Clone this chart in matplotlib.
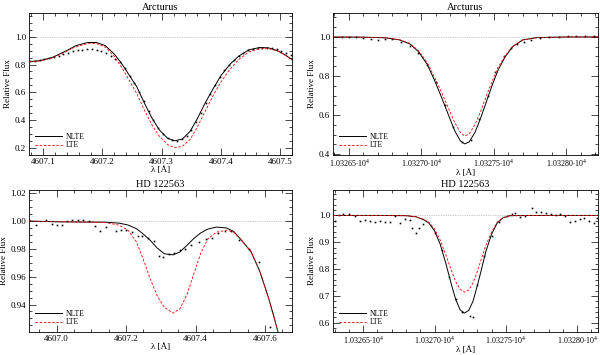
import numpy as np
import matplotlib.pyplot as plt
from matplotlib.ticker import MultipleLocator, AutoMinorLocator, FixedLocator, FixedFormatter

plt.rcParams['font.family'] = ['Liberation Serif', 'DejaVu Serif']
plt.rcParams['mathtext.fontset'] = 'custom'
plt.rcParams['mathtext.rm'] = 'Liberation Serif'

# --- Arcturus, 4607 A ---
arc_blue_wl = [4607.076, 4607.095, 4607.115, 4607.135, 4607.155, 4607.175, 4607.190,
               4607.205, 4607.220, 4607.232, 4607.245, 4607.258, 4607.270, 4607.283,
               4607.296, 4607.310, 4607.322, 4607.335, 4607.348, 4607.360, 4607.373,
               4607.386, 4607.400, 4607.415, 4607.430, 4607.447, 4607.465, 4607.480,
               4607.495, 4607.508, 4607.520]
arc_blue_nlte = [0.820, 0.828, 0.850, 0.890, 0.935, 0.958, 0.958, 0.935, 0.875, 0.810,
                 0.725, 0.640, 0.530, 0.420, 0.330, 0.270, 0.252, 0.265, 0.320, 0.410,
                 0.520, 0.620, 0.720, 0.800, 0.860, 0.905, 0.922, 0.920, 0.900, 0.870,
                 0.835]
arc_blue_lte = [0.820, 0.826, 0.846, 0.885, 0.928, 0.950, 0.950, 0.925, 0.858, 0.782,
                0.688, 0.590, 0.480, 0.370, 0.285, 0.225, 0.202, 0.212, 0.262, 0.350,
                0.460, 0.570, 0.675, 0.765, 0.835, 0.890, 0.912, 0.915, 0.898, 0.868,
                0.832]
arc_blue_obs_wl = [4607.078, 4607.086, 4607.094, 4607.102, 4607.110, 4607.118, 4607.126,
                   4607.134, 4607.142, 4607.150, 4607.158, 4607.166, 4607.174, 4607.182,
                   4607.190, 4607.198, 4607.206, 4607.214, 4607.222, 4607.230, 4607.238,
                   4607.246, 4607.254, 4607.262, 4607.270, 4607.278, 4607.286, 4607.294,
                   4607.302, 4607.310, 4607.318, 4607.326, 4607.334, 4607.342, 4607.350,
                   4607.358, 4607.366, 4607.374, 4607.382, 4607.390, 4607.398, 4607.406,
                   4607.414, 4607.422, 4607.430, 4607.438, 4607.446, 4607.454, 4607.462,
                   4607.470, 4607.478, 4607.486, 4607.494, 4607.502, 4607.510, 4607.518]
arc_blue_obs = [0.822, 0.824, 0.829, 0.836, 0.844, 0.853, 0.863, 0.873, 0.884, 0.894,
                0.902, 0.907, 0.909, 0.908, 0.903, 0.895, 0.882, 0.864, 0.842, 0.815,
                0.775, 0.720, 0.665, 0.605, 0.535, 0.468, 0.400, 0.345, 0.300, 0.270,
                0.255, 0.252, 0.262, 0.290, 0.330, 0.390, 0.455, 0.525, 0.590, 0.655,
                0.710, 0.760, 0.800, 0.835, 0.862, 0.885, 0.902, 0.913, 0.920, 0.922,
                0.922, 0.918, 0.910, 0.898, 0.885, 0.868]

# --- Arcturus, 10327 A ---
arc_ir_wl = [10326.39, 10326.60, 10326.75, 10326.85, 10326.92, 10326.98, 10327.04,
             10327.09, 10327.14, 10327.19, 10327.23, 10327.27, 10327.30, 10327.33,
             10327.37, 10327.41, 10327.45, 10327.49, 10327.53, 10327.58, 10327.63,
             10327.70, 10327.80, 10328.00, 10328.22]
arc_ir_nlte = [1.000, 0.999, 0.996, 0.985, 0.965, 0.925, 0.860, 0.780, 0.690, 0.595,
               0.520, 0.467, 0.452, 0.462, 0.510, 0.585, 0.670, 0.755, 0.830, 0.900,
               0.950, 0.985, 0.997, 1.000, 1.000]
arc_ir_lte = [1.000, 0.999, 0.996, 0.986, 0.967, 0.930, 0.870, 0.795, 0.715, 0.630,
              0.562, 0.510, 0.492, 0.503, 0.550, 0.620, 0.700, 0.775, 0.845, 0.905,
              0.952, 0.985, 0.997, 1.000, 1.000]
arc_ir_obs_wl = [10326.45, 10326.50, 10326.55, 10326.60, 10326.65, 10326.70, 10326.75,
                 10326.80, 10326.86, 10326.92, 10326.98, 10327.04, 10327.10, 10327.16,
                 10327.22, 10327.28, 10327.34, 10327.40, 10327.46, 10327.51, 10327.57,
                 10327.62, 10327.66, 10327.71, 10327.76, 10327.82, 10327.88, 10327.95,
                 10328.01, 10328.07, 10328.13, 10328.19]
arc_ir_obs = [1.000, 0.999, 0.998, 0.996, 0.988, 0.985, 0.990, 0.992, 0.975, 0.955,
              0.920, 0.855, 0.770, 0.650, 0.540, 0.462, 0.470, 0.580, 0.700, 0.820,
              0.905, 0.945, 0.962, 0.975, 0.985, 0.995, 1.000, 1.002, 1.003, 1.003,
              1.004, 1.003]

# --- HD 122563, 4607 A ---
hd_blue_wl = [4606.92, 4607.00, 4607.08, 4607.14, 4607.18, 4607.205, 4607.23, 4607.25,
              4607.27, 4607.29, 4607.31, 4607.335, 4607.355, 4607.375, 4607.395,
              4607.415, 4607.435, 4607.46, 4607.49, 4607.51, 4607.53, 4607.56,
              4607.585, 4607.61, 4607.625, 4607.64]
hd_blue_nlte = [1.0000, 0.9995, 0.9993, 0.9992, 0.9985, 0.9972, 0.9945, 0.9905,
                0.9860, 0.9805, 0.9765, 0.9757, 0.9778, 0.9825, 0.9875, 0.9915,
                0.9942, 0.9957, 0.9950, 0.9925, 0.9870, 0.9780, 0.9640, 0.9450,
                0.9320, 0.9180]
hd_blue_lte = [1.0000, 0.9995, 0.9993, 0.9990, 0.9970, 0.9935, 0.9850, 0.9720,
               0.9580, 0.9460, 0.9380, 0.9338, 0.9370, 0.9470, 0.9620, 0.9770,
               0.9870, 0.9920, 0.9935, 0.9920, 0.9868, 0.9778, 0.9638, 0.9448,
               0.9318, 0.9178]
hd_blue_obs_wl = [4606.920, 4606.939, 4606.968, 4606.985, 4607.002, 4607.014, 4607.031,
                  4607.045, 4607.062, 4607.077, 4607.093, 4607.111, 4607.125, 4607.141,
                  4607.170, 4607.186, 4607.201, 4607.216, 4607.233, 4607.247, 4607.263,
                  4607.279, 4607.296, 4607.306, 4607.323, 4607.338, 4607.356, 4607.371,
                  4607.387, 4607.410, 4607.431, 4607.448, 4607.464, 4607.485, 4607.503,
                  4607.524, 4607.553, 4607.584, 4607.615]
hd_blue_obs = [1.0011, 0.9975, 1.0011, 0.9980, 0.9971, 0.9975, 0.9999, 1.0011, 1.0006,
               1.0006, 0.9999, 0.9968, 0.9932, 0.9956, 0.9928, 0.9939, 0.9939, 0.9920,
               0.9892, 0.9892, 0.9880, 0.9860, 0.9746, 0.9742, 0.9760, 0.9767, 0.9789,
               0.9801, 0.9827, 0.9850, 0.9868, 0.9880, 0.9911, 0.9928, 0.9928, 0.9863,
               0.9801, 0.9706, 0.9235]

# --- HD 122563, 10327 A ---
hd_ir_wl = [10326.29, 10326.60, 10326.80, 10326.87, 10326.92, 10326.96, 10327.00,
            10327.04, 10327.08, 10327.12, 10327.15, 10327.18, 10327.21, 10327.24,
            10327.27, 10327.30, 10327.33, 10327.36, 10327.40, 10327.44, 10327.48,
            10327.53, 10327.70, 10328.15]
hd_ir_nlte = [1.000, 1.000, 0.999, 0.995, 0.985, 0.972, 0.943, 0.893, 0.820, 0.740,
              0.685, 0.648, 0.636, 0.646, 0.680, 0.738, 0.800, 0.865, 0.930, 0.972,
              0.991, 0.999, 1.000, 1.000]
hd_ir_lte = [1.000, 1.000, 0.999, 0.995, 0.986, 0.975, 0.950, 0.908, 0.852, 0.793,
             0.752, 0.725, 0.714, 0.722, 0.748, 0.790, 0.840, 0.888, 0.938, 0.975,
             0.992, 0.999, 1.000, 1.000]
hd_ir_obs_wl = [10326.30, 10326.33, 10326.36, 10326.40, 10326.44, 10326.48, 10326.51,
                10326.55, 10326.58, 10326.62, 10326.65, 10326.69, 10326.72, 10326.76,
                10326.79, 10326.83, 10326.84, 10326.87, 10326.89, 10326.92, 10327.00,
                10327.05, 10327.10, 10327.15, 10327.19, 10327.248, 10327.27, 10327.30,
                10327.35, 10327.40, 10327.45, 10327.509, 10327.544, 10327.568,
                10327.603, 10327.638, 10327.684, 10327.715, 10327.747, 10327.782,
                10327.817, 10327.852, 10327.883, 10327.913, 10327.948, 10327.983,
                10328.018, 10328.051, 10328.086, 10328.117, 10328.14]
hd_ir_obs = [0.980, 1.001, 1.005, 1.005, 0.999, 0.980, 0.984, 0.980, 0.977, 0.978,
             0.974, 0.977, 0.999, 0.971, 0.987, 0.984, 0.953, 0.935, 0.953, 0.968,
             0.935, 0.870, 0.770, 0.690, 0.640, 0.627, 0.623, 0.740, 0.850, 0.925,
             0.975, 0.999, 1.005, 1.008, 0.993, 0.996, 1.027, 1.013, 1.011, 1.008,
             1.004, 1.001, 1.005, 0.999, 0.974, 0.980, 0.987, 0.989, 0.980, 0.972,
             0.989]

panels = [
    dict(title='Arcturus', wl=arc_blue_wl, nlte=arc_blue_nlte, lte=arc_blue_lte,
         owl=arc_blue_obs_wl, obs=arc_blue_obs, xlim=(4607.076, 4607.52), ylim=(0.15, 1.17),
         xmaj=0.1, xmin=5, ymaj=0.2, ymin=4, fmt='%.1f', yfmt='%.1f', sci=False,
         pos=[0.0483, 0.5634, 0.4384, 0.4000]),
    dict(title='Arcturus', wl=arc_ir_wl, nlte=arc_ir_nlte, lte=arc_ir_lte,
         owl=arc_ir_obs_wl, obs=arc_ir_obs, xlim=(10326.39, 10328.22), ylim=(0.395, 1.123),
         xmaj=0.5, xmin=5, ymaj=0.2, ymin=4, fmt=None, yfmt='%.1f', sci=True,
         pos=[0.555, 0.5634, 0.4417, 0.4000]),
    dict(title='HD 122563', wl=hd_blue_wl, nlte=hd_blue_nlte, lte=hd_blue_lte,
         owl=hd_blue_obs_wl, obs=hd_blue_obs, xlim=(4606.92, 4607.678), ylim=(0.9203, 1.0224),
         xmaj=0.2, xmin=4, ymaj=0.02, ymin=4, fmt='%.1f', yfmt='%.2f', sci=False,
         pos=[0.0483, 0.0650, 0.4384, 0.4000]),
    dict(title='HD 122563', wl=hd_ir_wl, nlte=hd_ir_nlte, lte=hd_ir_lte,
         owl=hd_ir_obs_wl, obs=hd_ir_obs, xlim=(10326.288, 10328.147), ylim=(0.566, 1.095),
         xmaj=0.5, xmin=5, ymaj=0.1, ymin=5, fmt=None, yfmt='%.1f', sci=True,
         pos=[0.555, 0.0650, 0.4417, 0.4000]),
]

fig = plt.figure(figsize=(6, 3.55), dpi=100)

for p in panels:
    ax = fig.add_axes(p['pos'])
    ax.axhline(1.0, color='#999999', lw=0.5, ls=(0, (1, 1.5)), zorder=1)
    ax.plot(p['owl'], p['obs'], ls='none', marker='s', ms=1.2, mew=0,
            color='black', zorder=2)
    ax.plot(p['wl'], p['nlte'], color='black', lw=0.7, label='NLTE', zorder=3)
    ax.plot(p['wl'], p['lte'], color='red', lw=0.6, ls=(0, (3, 2)), label='LTE', zorder=3)
    ax.set_xlim(p['xlim'])
    ax.set_ylim(p['ylim'])
    ax.set_title(p['title'], fontsize=7.5, pad=2)
    ax.set_xlabel('λ [Å]', fontsize=6.5, labelpad=0)
    ax.set_ylabel('Relative Flux', fontsize=6.5, labelpad=2)

    lo = np.ceil(p['xlim'][0] / p['xmaj'] - 1e-6) * p['xmaj']
    ticks = np.arange(lo, p['xlim'][1], p['xmaj'])
    ax.xaxis.set_major_locator(FixedLocator(ticks))
    if p['sci']:
        labels = ['%.5f' % (t / 1e4) + r'$\bullet$10$^{4}$' for t in ticks]
        ax.xaxis.set_major_formatter(FixedFormatter(labels))
        ax.tick_params(axis='x', labelsize=5.8)
    else:
        ax.xaxis.set_major_formatter(plt.FormatStrFormatter(p['fmt']))
        ax.tick_params(axis='x', labelsize=6.5)
    ax.xaxis.set_minor_locator(AutoMinorLocator(p['xmin']))
    ax.yaxis.set_major_locator(MultipleLocator(p['ymaj']))
    ax.yaxis.set_minor_locator(AutoMinorLocator(p['ymin']))
    ax.yaxis.set_major_formatter(plt.FormatStrFormatter(p['yfmt']))
    ax.tick_params(axis='y', labelsize=6.5)
    ax.tick_params(which='both', direction='in', top=True, right=True, width=0.5, pad=2)
    ax.tick_params(which='major', length=5)
    ax.tick_params(which='minor', length=2.5)
    for s in ax.spines.values():
        s.set_linewidth(0.6)

    ax.legend(loc='lower left', fontsize=5.5, frameon=False, handlelength=3.6,
              handletextpad=0.5, labelspacing=0.05, borderaxespad=0.35)

fig.savefig('out.png', dpi=100)
